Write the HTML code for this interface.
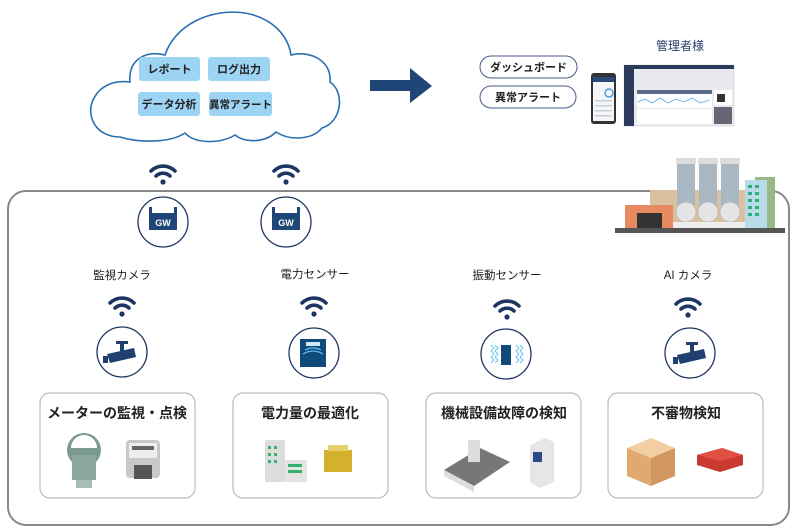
<!DOCTYPE html>
<html><head><meta charset="utf-8"><style>
body{margin:0;background:#fff;}
svg{display:block;font-family:"Liberation Sans","Noto Sans CJK JP",sans-serif;}
.t{font-weight:bold;fill:#222;}
</style></head><body>
<svg width="797" height="532" viewBox="0 0 797 532" xmlns="http://www.w3.org/2000/svg">
<defs>
<g id="wifi" fill="none" stroke="#1f3561" stroke-width="3.6" stroke-linecap="round">
<path d="M-12,-4 A17,17 0 0 1 12,-4"/>
<path d="M-7,1 A10,10 0 0 1 7,1"/>
<circle cx="0" cy="7" r="2.6" fill="#1f3561" stroke="none"/>
</g>
<g id="cam">
<rect x="-6" y="-13" width="12" height="3" fill="#1f3f6e"/>
<rect x="-2" y="-11" width="4" height="8" fill="#1f3f6e"/>
<path d="M-15,0 L12,-6 L14,3 L-12,9 Z" fill="#1f3f6e"/>
<rect x="-19" y="2" width="5" height="7" fill="#1f3f6e"/>
</g>
</defs>

<!-- cloud -->
<path d="M120,137 C95,137 86,115 93,100 C100,85 115,80 130,82 C128,60 145,50 165,55 C175,25 210,8 245,13 C272,18 288,35 291,55 C312,50 332,62 330,82 C345,92 342,122 322,128 C312,140 290,141 276,132 C265,143 245,143 235,135 C220,144 195,144 185,133 C170,143 140,143 120,137 Z" fill="#fff" stroke="#2b6fb3" stroke-width="1.6"/>
<g font-size="11" class="t" text-anchor="middle">
<rect x="139" y="57" width="61" height="24" rx="3" fill="#9dd3f3"/><text x="169.5" y="73">レポート</text>
<rect x="208" y="57" width="62" height="24" rx="3" fill="#9dd3f3"/><text x="239" y="73">ログ出力</text>
<rect x="138" y="92" width="62" height="24" rx="3" fill="#9dd3f3"/><text x="169" y="108">データ分析</text>
<rect x="209" y="92" width="63" height="24" rx="3" fill="#9dd3f3"/><text x="240.5" y="108" font-size="10.5">異常アラート</text>
</g>

<!-- arrow -->
<path d="M370,80 L410,80 L410,68 L432,86 L410,103 L410,91 L370,91 Z" fill="#1f4677"/>

<!-- pills -->
<g font-size="11" class="t" text-anchor="middle">
<rect x="480" y="56" width="97" height="22" rx="11" fill="#fff" stroke="#4a5a88" stroke-width="1"/><text x="528.5" y="71">ダッシュボード</text>
<rect x="480" y="86" width="96" height="22" rx="11" fill="#fff" stroke="#4a5a88" stroke-width="1"/><text x="528" y="101">異常アラート</text>
</g>
<text x="680" y="50" font-size="12" fill="#2a3a6a" text-anchor="middle">管理者様</text>
<!-- phone -->
<rect x="591" y="73" width="25" height="51" rx="3" fill="#333"/>
<rect x="593" y="77" width="21" height="44" fill="#f4f6fa"/>
<rect x="593" y="77" width="21" height="5" fill="#2b4a7a"/>
<circle cx="609" cy="93" r="4" fill="none" stroke="#4aa0e0" stroke-width="1.5"/>
<g fill="#c8ccd4"><rect x="595" y="100" width="17" height="1.5"/><rect x="595" y="105" width="17" height="1.5"/><rect x="595" y="110" width="17" height="1.5"/><rect x="595" y="115" width="17" height="1.5"/></g>
<!-- screen -->
<rect x="624" y="65" width="110" height="61" fill="#e8eaef" stroke="#ccc" stroke-width="0.5"/>
<rect x="624" y="65" width="110" height="4" fill="#2b3a5a"/>
<rect x="624" y="69" width="10" height="57" fill="#2b3a5a"/>
<rect x="637" y="90" width="75" height="4" fill="#5a6b8a"/>
<rect x="637" y="94" width="75" height="14" fill="#fff"/>
<polyline points="638,102 645,99 652,103 660,98 668,103 676,99 684,102 692,98 700,103 710,100" fill="none" stroke="#5aa8e0" stroke-width="0.8"/>
<rect x="637" y="109" width="75" height="15" fill="#fff"/>
<rect x="714" y="90" width="18" height="15" fill="#fff"/><rect x="717" y="94" width="8" height="8" fill="#333"/>
<rect x="714" y="107" width="18" height="17" fill="#667"/>

<!-- main container -->
<rect x="8" y="191" width="781" height="334" rx="18" fill="none" stroke="#888" stroke-width="2"/>

<!-- factory -->
<rect x="615" y="228" width="170" height="5" fill="#555"/>
<rect x="755" y="177" width="20" height="51" fill="#9ab885"/>
<rect x="745" y="180" width="22" height="48" fill="#b7dce8"/>
<g fill="#2fae7a"><rect x="748" y="185" width="4" height="3"/><rect x="755" y="185" width="4" height="3"/><rect x="748" y="192" width="4" height="3"/><rect x="755" y="192" width="4" height="3"/><rect x="748" y="199" width="4" height="3"/><rect x="755" y="199" width="4" height="3"/><rect x="748" y="206" width="4" height="3"/><rect x="755" y="206" width="4" height="3"/><rect x="748" y="213" width="4" height="3"/><rect x="755" y="213" width="4" height="3"/></g>
<rect x="650" y="190" width="95" height="38" fill="#d8c0a0"/>
<rect x="677" y="163" width="18" height="45" fill="#a9b8c2"/>
<rect x="699" y="163" width="18" height="45" fill="#a9b8c2"/>
<rect x="721" y="163" width="18" height="45" fill="#a9b8c2"/>
<g fill="#ddd"><rect x="676" y="158" width="20" height="6"/><rect x="698" y="158" width="20" height="6"/><rect x="720" y="158" width="20" height="6"/></g>
<g fill="#e4e4e6" stroke="#aaa" stroke-width="0.5"><ellipse cx="686" cy="212" rx="10" ry="10"/><ellipse cx="708" cy="212" rx="10" ry="10"/><ellipse cx="730" cy="212" rx="10" ry="10"/></g>
<rect x="625" y="205" width="48" height="23" fill="#e78a5f"/>
<rect x="637" y="213" width="25" height="15" fill="#333"/>
<rect x="673" y="222" width="72" height="6" fill="#eee"/>

<!-- GW -->
<use href="#wifi" x="163" y="175"/>
<use href="#wifi" x="286" y="175"/>
<g>
<circle cx="163" cy="222" r="25" fill="#fff" stroke="#1f3561" stroke-width="1.3"/>
<rect x="149" y="213" width="28" height="17" fill="#1f4677"/><rect x="149" y="207" width="3" height="7" fill="#1f4677"/><rect x="174" y="207" width="3" height="7" fill="#1f4677"/>
<text x="163" y="226" font-size="9" font-weight="bold" fill="#fff" text-anchor="middle">GW</text>
<circle cx="286" cy="222" r="25" fill="#fff" stroke="#1f3561" stroke-width="1.3"/>
<rect x="272" y="213" width="28" height="17" fill="#1f4677"/><rect x="272" y="207" width="3" height="7" fill="#1f4677"/><rect x="297" y="207" width="3" height="7" fill="#1f4677"/>
<text x="286" y="226" font-size="9" font-weight="bold" fill="#fff" text-anchor="middle">GW</text>
</g>

<!-- sensor labels -->
<g font-size="11.5" fill="#222" text-anchor="middle">
<text x="122" y="279">監視カメラ</text>
<text x="315" y="278">電力センサー</text>
<text x="507" y="279">振動センサー</text>
<text x="688" y="279">AI カメラ</text>
</g>
<use href="#wifi" x="122" y="307"/>
<use href="#wifi" x="314" y="307"/>
<use href="#wifi" x="507" y="310"/>
<use href="#wifi" x="688" y="308"/>

<circle cx="122" cy="352" r="25" fill="#fff" stroke="#1f3561" stroke-width="1.3"/>
<use href="#cam" x="122" y="354"/>
<circle cx="314" cy="353" r="25" fill="#fff" stroke="#1f3561" stroke-width="1.3"/>
<rect x="300" y="339" width="26" height="28" fill="#0f4a7a"/>
<path d="M305,350 Q313,346 321,350 M303,354 Q313,348 323,354" fill="none" stroke="#5ec0f0" stroke-width="1.2"/>
<rect x="306" y="342" width="14" height="4" fill="#cfe6f5"/>
<circle cx="506" cy="354" r="25" fill="#fff" stroke="#1f3561" stroke-width="1.3"/>
<rect x="501" y="345" width="10" height="20" fill="#0f4a7a"/>
<path d="M491,345 l3,3 l-3,3 l3,3 l-3,3 l3,3 l-3,3 M495,345 l3,3 l-3,3 l3,3 l-3,3 l3,3 l-3,3 M516,345 l3,3 l-3,3 l3,3 l-3,3 l3,3 l-3,3 M520,345 l3,3 l-3,3 l3,3 l-3,3 l3,3 l-3,3" fill="none" stroke="#5ec0f0" stroke-width="0.9"/>
<circle cx="690" cy="353" r="25" fill="#fff" stroke="#1f3561" stroke-width="1.3"/>
<use href="#cam" x="692" y="355"/>

<!-- boxes -->
<g fill="#fff" stroke="#bbb" stroke-width="1.2">
<rect x="40" y="393" width="155" height="105" rx="10"/>
<rect x="233" y="393" width="155" height="105" rx="10"/>
<rect x="426" y="393" width="155" height="105" rx="10"/>
<rect x="608" y="393" width="155" height="105" rx="10"/>
</g>
<g font-size="14" class="t" text-anchor="middle">
<text x="117" y="418">メーターの監視・点検</text>
<text x="310" y="418">電力量の最適化</text>
<text x="504" y="418">機械設備故障の検知</text>
<text x="686" y="418">不審物検知</text>
</g>
<!-- meter icons -->
<circle cx="84" cy="450" r="17" fill="#7a9a90"/>
<path d="M71,448 A13,13 0 0 1 97,448 Z" fill="#fff"/>
<rect x="72" y="455" width="24" height="25" fill="#8aa89f"/>
<rect x="76" y="480" width="16" height="8" fill="#a7bdb6"/>
<rect x="126" y="440" width="34" height="38" rx="4" fill="#c8c8c8"/>
<rect x="129" y="443" width="28" height="15" fill="#eee"/>
<rect x="132" y="446" width="22" height="4" fill="#666"/>
<rect x="134" y="465" width="18" height="14" fill="#555"/>
<!-- building + plug -->
<rect x="265" y="440" width="20" height="42" fill="#ddd"/>
<rect x="285" y="460" width="22" height="22" fill="#e4e4e0"/>
<g fill="#33b46b"><rect x="268" y="446" width="3" height="3"/><rect x="274" y="446" width="3" height="3"/><rect x="268" y="453" width="3" height="3"/><rect x="274" y="453" width="3" height="3"/><rect x="268" y="460" width="3" height="3"/><rect x="274" y="460" width="3" height="3"/><rect x="288" y="464" width="14" height="3"/><rect x="288" y="470" width="14" height="3"/></g>
<rect x="324" y="450" width="28" height="22" fill="#d4b02c"/>
<rect x="328" y="445" width="20" height="6" fill="#e8d070"/>
<!-- machine -->
<path d="M444,470 L480,448 L510,462 L474,486 Z" fill="#777"/>
<path d="M444,470 L474,486 L474,492 L444,476 Z" fill="#ddd"/>
<rect x="468" y="440" width="12" height="22" fill="#ddd"/>
<path d="M530,445 L545,438 L554,442 L554,482 L540,488 L530,482 Z" fill="#e6e6e8"/>
<rect x="533" y="452" width="9" height="10" fill="#2a4a8a"/>
<!-- box + case -->
<path d="M627,448 L651,438 L675,448 L651,458 Z" fill="#f2cfa3"/>
<path d="M627,448 L651,458 L651,486 L627,476 Z" fill="#e0a970"/>
<path d="M675,448 L651,458 L651,486 L675,476 Z" fill="#d09860"/>
<path d="M697,455 L722,448 L743,455 L743,465 L720,472 L697,465 Z" fill="#c83a30"/>
<path d="M697,455 L722,448 L743,455 L720,461 Z" fill="#e05045"/>
</svg>
</body></html>
